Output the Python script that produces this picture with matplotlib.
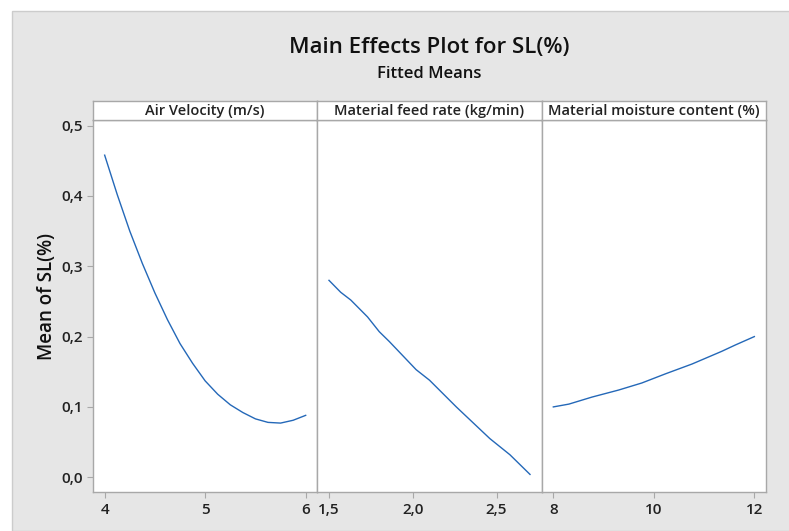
import matplotlib
matplotlib.use("Agg")
import matplotlib.pyplot as plt
from matplotlib.patches import Rectangle

plt.rcParams['font.family'] = ['Open Sans', 'DejaVu Sans']

# data
air_x = [4.0, 4.125, 4.25, 4.375, 4.5, 4.625, 4.75, 4.875, 5.0, 5.125, 5.25, 5.375, 5.5, 5.625, 5.75, 5.875, 6.0]
air_y = [0.458, 0.402, 0.350, 0.304, 0.262, 0.224, 0.190, 0.162, 0.137, 0.118, 0.103, 0.092, 0.083, 0.078, 0.077, 0.081, 0.088]

feed_x = [1.5, 1.57, 1.63, 1.73, 1.80, 1.86, 2.02, 2.10, 2.26, 2.46, 2.58, 2.7]
feed_y = [0.280, 0.263, 0.252, 0.228, 0.207, 0.193, 0.153, 0.138, 0.100, 0.055, 0.032, 0.004]

moist_x = [8.0, 8.31, 8.77, 9.30, 9.76, 10.23, 10.76, 11.35, 11.62, 12.0]
moist_y = [0.100, 0.104, 0.114, 0.124, 0.134, 0.147, 0.161, 0.179, 0.188, 0.200]

panel_names = ["Air Velocity (m/s)", "Material feed rate (kg/min)", "Material moisture content (%)"]
xticks = [[4, 5, 6], [1.5, 2.0, 2.5], [8, 10, 12]]
xticklabels = [["4", "5", "6"], ["1,5", "2,0", "2,5"], ["8", "10", "12"]]
yticks = [0.0, 0.1, 0.2, 0.3, 0.4, 0.5]
yticklabels = ["0,0", "0,1", "0,2", "0,3", "0,4", "0,5"]

series = [(air_x, air_y), (feed_x, feed_y), (moist_x, moist_y)]

W, H = 789, 531
fig = plt.figure(figsize=(W / 100, H / 100), dpi=100)
fig.patch.set_facecolor('white')

# grey background box
fig.patches.append(Rectangle((12 / W, 0), 1, 1 - 11 / H, transform=fig.transFigure,
                             facecolor='#e6e6e6', edgecolor='#cccccc', lw=1.0, zorder=-10))

left, right = 93, 766
top_plot, bottom_plot, strip_top = 120, 492, 101
pw = (right - left) / 3
frame_col = '#a8a8a8'
line_col = '#2468b8'

for i, ((xs, ys), name) in enumerate(zip(series, panel_names)):
    x0 = left + i * pw
    ax = fig.add_axes([x0 / W, 1 - bottom_plot / H, pw / W, (bottom_plot - top_plot) / H])
    ax.plot(xs, ys, color=line_col, lw=1.0)
    lo, hi = xticks[i][0], xticks[i][-1]
    if i == 1:
        lo, hi = 1.5, 2.7
    pad = (hi - lo) * 0.058
    ax.set_xlim(lo - pad, hi + pad)
    ax.set_ylim(-0.021, 0.508)
    ax.set_xticks(xticks[i])
    ax.set_xticklabels(xticklabels[i], fontsize=11, fontweight='semibold', color='#222222')
    ax.set_yticks(yticks)
    if i == 0:
        ax.set_yticklabels(yticklabels, fontsize=11, fontweight='semibold', color='#222222')
        ax.tick_params(axis='y', length=4, color=frame_col, pad=3)
    else:
        ax.tick_params(axis='y', left=False, labelleft=False)
    ax.tick_params(axis='x', length=4, color=frame_col, pad=4)
    for s in ax.spines.values():
        s.set_color(frame_col)
        s.set_linewidth(1.0)

    # strip
    sax = fig.add_axes([x0 / W, 1 - top_plot / H, pw / W, (top_plot - strip_top) / H])
    sax.set_xticks([])
    sax.set_yticks([])
    for s in sax.spines.values():
        s.set_color(frame_col)
        s.set_linewidth(1.0)
    sax.text(0.5, 0.5, name, ha='center', va='center', fontsize=10.5,
             fontweight='semibold', color='#222222', transform=sax.transAxes)

cx = (left + right) / 2 / W
fig.text(cx, 1 - 47 / H, "Main Effects Plot for SL(%)", ha='center', va='center',
         fontsize=16, fontweight='semibold', color='#111111')
fig.text(cx, 1 - 74 / H, "Fitted Means", ha='center', va='center',
         fontsize=12, fontweight='semibold', color='#111111')
fig.text(47 / W, 1 - 297 / H, "Mean of SL(%)", rotation=90,
         ha='center', va='center', fontsize=13.5, fontweight='semibold', color='#111111')

fig.savefig("out.png", dpi=100)
